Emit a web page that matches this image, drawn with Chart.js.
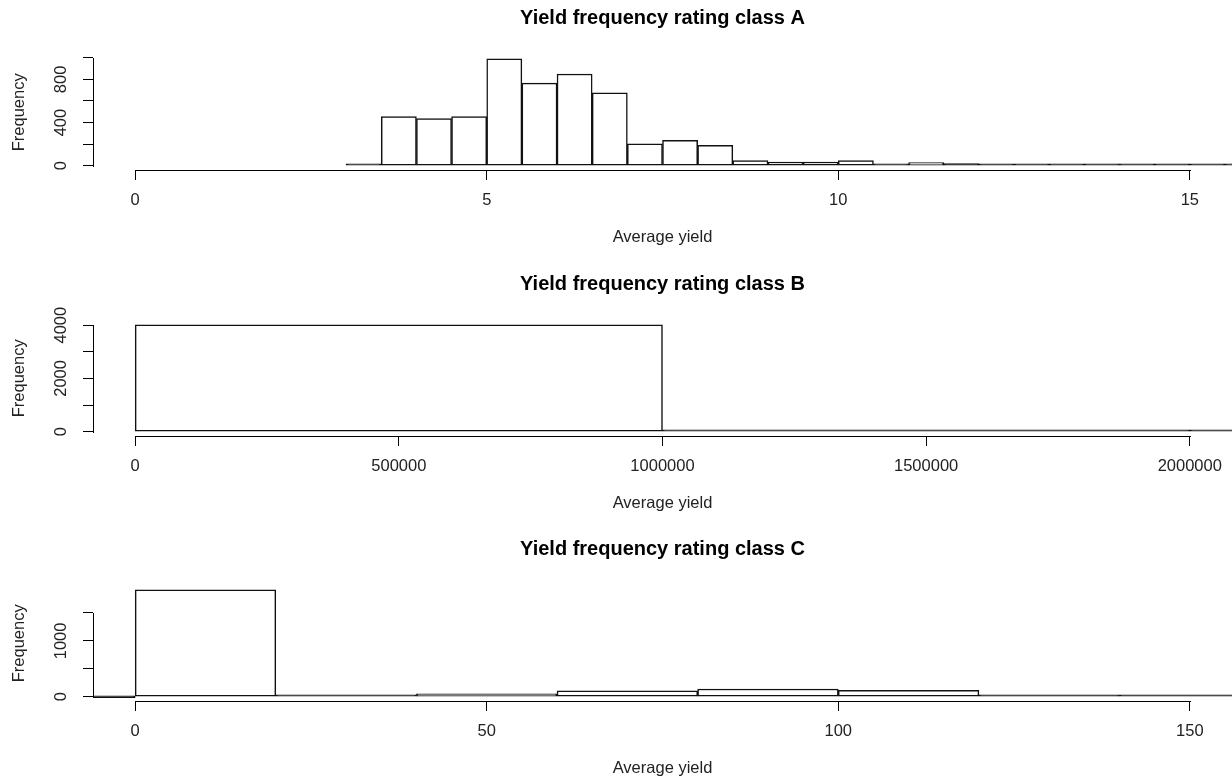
<!DOCTYPE html>
<html>
<head>
<meta charset="utf-8">
<script src="https://cdn.jsdelivr.net/npm/chart.js@4/dist/chart.umd.min.js"></script>
<style>
html,body{margin:0;padding:0;background:#fff;overflow:hidden;width:1232px;height:778px;position:relative;}
canvas{position:absolute;left:0;}
</style>
</head>
<body>
<canvas id="cA" width="1232" height="266" style="top:0px"></canvas>
<canvas id="cB" width="1232" height="266" style="top:266px"></canvas>
<canvas id="cC" width="1232" height="266" style="top:531px"></canvas>
<script>
// ---------------- data ----------------
const titleA = 'Yield frequency rating class A';
const titleB = 'Yield frequency rating class B';
const titleC = 'Yield frequency rating class C';
const xTitle = 'Average yield';
const yTitle = 'Frequency';

// Class A histogram (bin width 0.5)
const binStartA = [3.0,3.5,4.0,4.5,5.0,5.5,6.0,6.5,7.0,7.5,8.0,8.5,9.0,9.5,10.0,10.5,11.0,11.5,12.0,12.5,13.0,13.5,14.0,14.5,15.0,15.5];
const countsA   = [15,456,437,456,990,766,850,676,202,235,190,48,34,34,48,16,30,20,14,10,18,15,6,6,4,3];
const binWidthA = 0.5;
const xLimA = [0, 15];
const xTicksA = [0, 5, 10, 15];
const xTickLabelsA = ['0', '5', '10', '15'];
const yTicksA = [0, 200, 400, 600, 800, 1000];
const yTickLabelsA = ['0', '', '400', '', '800', ''];

// Class B histogram (bin width 1,000,000)
const binStartB = [0, 1000000, 2000000];
const countsB   = [4010, 20, 55];
const binWidthB = 1000000;
const xLimB = [0, 2000000];
const xTicksB = [0, 500000, 1000000, 1500000, 2000000];
const xTickLabelsB = ['0', '500000', '1000000', '1500000', '2000000'];
const yTicksB = [0, 1000, 2000, 3000, 4000];
const yTickLabelsB = ['0', '', '2000', '', '4000'];

// Class C histogram (bin width 20)
const binStartC = [-20, 0, 20, 40, 60, 80, 100, 120, 140];
const countsC   = [0, 1914, 18, 54, 105, 139, 115, 2, 18];
const binWidthC = 20;
const xLimC = [0, 150];
const xTicksC = [0, 50, 100, 150];
const xTickLabelsC = ['0', '50', '100', '150'];
const yTicksC = [0, 500, 1000, 1500];
const yTickLabelsC = ['0', '', '1000', ''];

// ---------------- style ----------------
const FONT = "'Liberation Sans', Arial, Helvetica, sans-serif";
const LABEL_SIZE = 16.5;
const TITLE_SIZE = 20;
const CANVAS_W = 1232;
const AXIS_LEFT = 93;
const X_AXIS_H = 96;
const TICK_LEN = 10;
const TEXT_COLOR = '#222';
const LINE_COLOR = '#111111';

function measure(text, size) {
  const c = document.createElement('canvas').getContext('2d');
  c.font = size + 'px ' + FONT;
  return c.measureText(text).width;
}

// R-style axis lines: drawn from first to last tick, using the chart's scales
const rAxisLines = {
  id: 'rAxisLines',
  afterDraw(chart) {
    const {ctx, chartArea} = chart;
    const xs = chart.scales.x, ys = chart.scales.y;
    ctx.save();
    ctx.strokeStyle = '#000';
    ctx.lineWidth = 1;
    ctx.beginPath();
    const yb = Math.round(chartArea.bottom) + 0.5;
    ctx.moveTo(Math.round(xs.getPixelForValue(xs.ticks[0].value)), yb);
    ctx.lineTo(Math.round(xs.getPixelForValue(xs.ticks[xs.ticks.length - 1].value)) + 1, yb);
    const xl = Math.round(chartArea.left) + 0.5;
    ctx.moveTo(xl, Math.round(ys.getPixelForValue(ys.ticks[0].value)) + 1);
    ctx.lineTo(xl, Math.round(ys.getPixelForValue(ys.ticks[ys.ticks.length - 1].value)));
    ctx.stroke();
    ctx.restore();
  }
};

function histChart(id, title, starts, counts, width, xlim, xTicks, xLabels, yTicks, yLabels) {
  const ymax = Math.max(...counts);
  const data = starts.map((s, i) => ({x: s + width / 2, y: counts[i]}));
  const widest = Math.max(...yLabels.map(l => measure(l, LABEL_SIZE)));
  const yPad = AXIS_LEFT - TICK_LEN - 61 - widest / 2;
  const xpad = 0.04 * (xlim[1] - xlim[0]);
  const xmin = xlim[0] - xpad, xmax = xlim[1] + xpad;
  // each bar spans exactly one bin width on the x scale
  const barPx = width / (xmax - xmin) * (CANVAS_W - AXIS_LEFT);
  const labelFont = {family: FONT, size: LABEL_SIZE};
  const gridOpts = {display: true, drawOnChartArea: false, drawTicks: true, tickLength: TICK_LEN, color: '#000', lineWidth: 1, offset: false};
  return new Chart(document.getElementById(id), {
    type: 'bar',
    data: {
      datasets: [{
        data: data,
        // very short bars collapse to a dark outline, as in the original
        backgroundColor: (c) => (c.raw && c.raw.y < 0.025 * ymax) ? LINE_COLOR : '#ffffff',
        borderColor: LINE_COLOR,
        borderWidth: 1.5,
        borderSkipped: false,
        barThickness: barPx,
        minBarLength: 2
      }]
    },
    options: {
      responsive: false,
      animation: false,
      devicePixelRatio: 1,
      layout: {padding: 0, autoPadding: false},
      plugins: {
        legend: {display: false},
        tooltip: {enabled: false},
        title: {
          display: true, text: title, fullSize: false, color: '#000',
          font: {family: FONT, size: TITLE_SIZE, weight: 'bold'},
          padding: {top: 6.3, bottom: 24.3}
        }
      },
      scales: {
        x: {
          type: 'linear',
          min: xmin, max: xmax,
          offset: false,
          afterBuildTicks(s) { s.ticks = xTicks.map(v => ({value: v})); },
          afterFit(s) { s.height = X_AXIS_H; },
          grid: gridOpts,
          border: {display: false},
          ticks: {
            autoSkip: false, maxRotation: 0, minRotation: 0, padding: 10.1,
            color: TEXT_COLOR, font: labelFont,
            callback: (v, i) => xLabels[i]
          },
          title: {display: true, text: xTitle, color: TEXT_COLOR, font: labelFont, padding: {top: 0, bottom: 18.8}}
        },
        y: {
          type: 'linear',
          min: -0.04 * ymax, max: 1.04 * ymax,
          afterBuildTicks(s) { s.ticks = yTicks.map(v => ({value: v})); },
          afterFit(s) { s.width = AXIS_LEFT; },
          grid: gridOpts,
          border: {display: false},
          ticks: {
            autoSkip: false, minRotation: 90, maxRotation: 90, crossAlign: 'center', padding: yPad,
            color: TEXT_COLOR, font: labelFont,
            callback: (v, i) => yLabels[i]
          },
          title: {display: true, text: yTitle, color: TEXT_COLOR, font: labelFont, padding: {top: 9.1, bottom: 0}}
        }
      }
    },
    plugins: [rAxisLines]
  });
}

histChart('cA', titleA, binStartA, countsA, binWidthA, xLimA, xTicksA, xTickLabelsA, yTicksA, yTickLabelsA);
histChart('cB', titleB, binStartB, countsB, binWidthB, xLimB, xTicksB, xTickLabelsB, yTicksB, yTickLabelsB);
histChart('cC', titleC, binStartC, countsC, binWidthC, xLimC, xTicksC, xTickLabelsC, yTicksC, yTickLabelsC);
</script>
</body>
</html>
